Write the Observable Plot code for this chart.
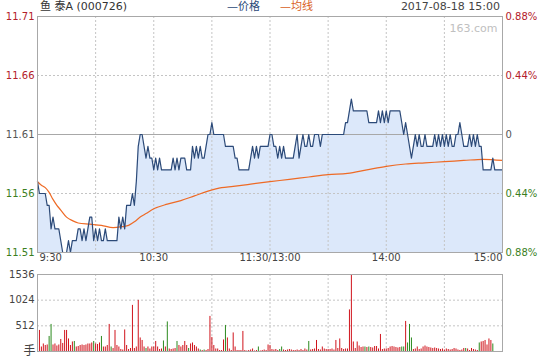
<!DOCTYPE html>
<html><head><meta charset="utf-8">
<script src="https://cdn.jsdelivr.net/npm/d3@7"></script>
<script src="https://cdn.jsdelivr.net/npm/@observablehq/plot@0.6"></script>
<style>
body{margin:0;background:#fff;}
#wrap{position:relative;width:540px;height:360px;overflow:hidden;font-family:"DejaVu Sans","Noto Sans CJK SC",sans-serif;}
#wrap svg{position:absolute;left:0;}
.hd{position:absolute;top:0;font-size:11px;line-height:13px;color:#333;white-space:nowrap;}
</style></head><body><div id="wrap"></div>
<script>
// ---- data (minute index 0 = 9:30, 120 = 11:30/13:00, 240 = 15:00) ----
const prices = [
11.57,11.56,11.56,11.56,11.56,11.55,11.55,11.53,11.54,11.53,
11.53,11.53,11.52,11.51,11.51,11.51,11.52,11.51,11.52,11.52,
11.52,11.53,11.53,11.52,11.53,11.52,11.53,11.54,11.54,11.52,
11.53,11.52,11.53,11.52,11.52,11.53,11.52,11.52,11.52,11.52,
11.52,11.52,11.54,11.53,11.54,11.53,11.55,11.55,11.55,11.56,
11.55,11.57,11.60,11.61,11.61,11.60,11.59,11.60,11.59,11.59,
11.58,11.59,11.58,11.59,11.58,11.58,11.58,11.58,11.58,11.58,
11.59,11.58,11.59,11.58,11.59,11.59,11.59,11.58,11.58,11.58,
11.60,11.59,11.60,11.59,11.60,11.59,11.59,11.60,11.61,11.61,
11.62,11.61,11.61,11.61,11.61,11.61,11.61,11.60,11.60,11.60,
11.60,11.60,11.59,11.59,11.58,11.58,11.58,11.58,11.58,11.58,
11.59,11.60,11.59,11.60,11.59,11.60,11.60,11.60,11.60,11.60,
11.61,11.61,11.60,11.60,11.59,11.60,11.59,11.60,11.59,11.59,
11.59,11.59,11.59,11.60,11.61,11.59,11.60,11.61,11.60,11.60,
11.61,11.60,11.60,11.61,11.61,11.61,11.60,11.61,11.61,11.61,
11.61,11.61,11.61,11.61,11.61,11.61,11.61,11.61,11.61,11.62,
11.62,11.63,11.64,11.63,11.63,11.63,11.63,11.63,11.63,11.63,
11.63,11.62,11.62,11.62,11.62,11.62,11.63,11.62,11.63,11.62,
11.63,11.62,11.63,11.63,11.63,11.63,11.63,11.63,11.62,11.61,
11.62,11.61,11.60,11.59,11.60,11.61,11.60,11.61,11.60,11.60,
11.61,11.60,11.60,11.60,11.60,11.61,11.60,11.61,11.60,11.61,
11.60,11.61,11.60,11.61,11.60,11.60,11.61,11.61,11.62,11.61,
11.60,11.60,11.60,11.61,11.60,11.61,11.60,11.61,11.60,11.60,
11.58,11.58,11.58,11.58,11.58,11.59,11.58,11.58,11.58,11.58,
11.58
];
const avgMinutes = [0,2,4,6,8,10,12,15,18,21,27,33,39,44,47,50,53,56,60,67,74,81,88,95,101,110,120,130,140,150,160,170,180,190,200,210,220,230,240];
const avgPrices  = [11.570,11.567,11.565,11.561,11.555,11.550,11.546,11.540,11.537,11.535,11.534,11.533,11.531,11.532,11.533,11.536,11.540,11.543,11.547,11.551,11.554,11.558,11.562,11.565,11.566,11.568,11.570,11.572,11.574,11.576,11.577,11.580,11.583,11.585,11.586,11.587,11.588,11.589,11.588];
const volumes = [
0,420,90,150,120,130,300,540,130,150,
110,130,240,160,420,420,250,120,190,200,
90,100,120,130,120,130,150,150,170,200,
150,140,170,300,90,90,120,540,90,60,
420,120,90,40,30,430,120,40,60,920,
60,90,1020,270,220,90,60,90,50,90,
90,200,90,40,50,210,90,590,50,40,
50,60,200,120,90,120,200,120,60,150,
170,120,90,50,30,20,30,20,40,700,
280,120,50,50,20,20,230,520,270,50,
20,370,90,20,20,20,400,20,10,20,
30,50,10,20,90,10,20,30,20,130,
120,40,30,40,20,40,90,30,20,30,
40,30,20,20,30,20,40,20,50,30,
200,30,40,50,220,40,30,90,50,40,
40,40,50,30,220,60,250,60,40,50,
50,830,1520,190,60,190,110,80,90,90,
80,90,80,70,100,100,50,340,40,50,
50,60,90,100,90,80,70,80,90,90,
600,170,540,270,40,50,90,40,50,90,
110,90,80,70,60,70,60,50,40,50,
30,50,40,30,40,60,50,30,20,30,
60,60,50,20,60,40,30,20,170,190,
200,220,130,250,220,150,0,0,0,0,
0
];
const sellMinutes = [6,7,19,29,33,38,56,65,67,72,78,84,86,97,114,125,126,140,169,171,188,189,191,192,193,221,228,235];
const gridMinutes = [30,60,90,120,150,180,210];
const timeTicks = [0,60,120,180,240];
const timeLabels = ["9:30","10:30","11:30/13:00","14:00","15:00"];
const priceTicks = [11.51,11.56,11.61,11.66,11.71];
const priceLabels = ["11.51","11.56","11.61","11.66","11.71"];
const pctLabels = ["0.88%","0.44%","0","0.44%","0.88%"];
const tickColors = ["#3b7f1e","#3b7f1e","#555","#b3202a","#b3202a"];
const volTicks = [512,1024,1536];

const rows = prices.map((p,i)=>({i, p, v: volumes[i], sell: sellMinutes.includes(i)}));
const avgRows = avgMinutes.map((m,k)=>({i:m, a:avgPrices[k]}));
const ticks = priceTicks.map((t,k)=>({t, lab:priceLabels[k], pct:pctLabels[k], c:tickColors[k]}));
const tticks = timeTicks.map((t,k)=>({t, lab:timeLabels[k]}));

const font = {fontFamily:"DejaVu Sans, sans-serif", fontSize:"10px", background:"transparent", overflow:"visible"};

const pricePlot = Plot.plot({
  width:540, height:272, marginLeft:37, marginRight:38, marginTop:16, marginBottom:20,
  x:{domain:[0,240], axis:null},
  y:{domain:[11.51,11.71], axis:null},
  style:font,
  marks:[
    Plot.areaY(rows,{x:"i", y1:11.51, y2:"p", fill:"#dce8fa"}),
    Plot.ruleX(gridMinutes,{stroke:"#c4c4c4", strokeDasharray:"2,2"}),
    Plot.ruleY([11.56,11.66],{stroke:"#c4c4c4", strokeDasharray:"2,2"}),
    Plot.ruleY([11.61],{stroke:"#a8a8a8"}),
    Plot.line(avgRows,{x:"i", y:"a", stroke:"#ee6a25", strokeWidth:1.2, curve:"monotone-x"}),
    Plot.line(rows,{x:"i", y:"p", stroke:"#2c4a78", strokeWidth:1.2}),
    Plot.frame({stroke:"#a8a8a8"}),
    Plot.text(ticks,{y:"t", text:"lab", fill:"c", frameAnchor:"left", dx:-3, textAnchor:"end"}),
    Plot.text(ticks,{y:"t", text:"pct", fill:"c", frameAnchor:"right", dx:3, textAnchor:"start"}),
    Plot.text(tticks.slice(0,1),{x:"t", text:"lab", frameAnchor:"bottom", dy:8, dx:2, textAnchor:"start", fill:"#444"}),
    Plot.text(tticks.slice(1,4),{x:"t", text:"lab", frameAnchor:"bottom", dy:8, fill:"#444"}),
    Plot.text(tticks.slice(4),{x:"t", text:"lab", frameAnchor:"bottom", dy:8, textAnchor:"end", fill:"#444"}),
    Plot.text(["163.com"],{frameAnchor:"top-right", dx:-5, dy:8, fill:"#c0c0c0", fontSize:11})
  ]
});

const volPlot = Plot.plot({
  width:540, height:98, marginLeft:37, marginRight:38, marginTop:12, marginBottom:9,
  x:{domain:[0,240], axis:null},
  y:{domain:[0,1536], axis:null},
  style:font,
  marks:[
    Plot.ruleX(gridMinutes,{stroke:"#c4c4c4", strokeDasharray:"2,2"}),
    Plot.ruleY([512,1024],{stroke:"#c4c4c4", strokeDasharray:"2,2"}),
    Plot.ruleX(rows.filter(d=>d.v>0),{x:"i", y1:0, y2:"v", stroke:d=>d.sell?"#2b8a1e":"#d0141c", strokeWidth:1}),
    Plot.frame({stroke:"#a8a8a8"}),
    Plot.text(volTicks,{y:d=>d, text:d=>String(d), frameAnchor:"left", dx:-3, textAnchor:"end", fill:"#444"}),
    Plot.text(["手"],{frameAnchor:"bottom-left", dx:-8, dy:3, textAnchor:"middle", fill:"#444", fontSize:12, fontFamily:"Noto Sans CJK SC"})
  ]
});

const wrap = document.getElementById("wrap");
pricePlot.style.top = "0px";
volPlot.style.top = "262px";
wrap.appendChild(pricePlot);
wrap.appendChild(volPlot);

function hd(text, left, right, color){
  const d = document.createElement("div");
  d.className = "hd"; d.textContent = text;
  if (left != null) d.style.left = left + "px";
  if (right != null) d.style.right = right + "px";
  if (color) d.style.color = color;
  wrap.appendChild(d);
}
hd("鱼 泰A (000726)", 40, null, "#333");
hd("—价格", 227, null, "#2c4a78");
hd("—均线", 280, null, "#d8601c");
hd("2017-08-18 15:00", null, 40, "#444");
</script></body></html>
